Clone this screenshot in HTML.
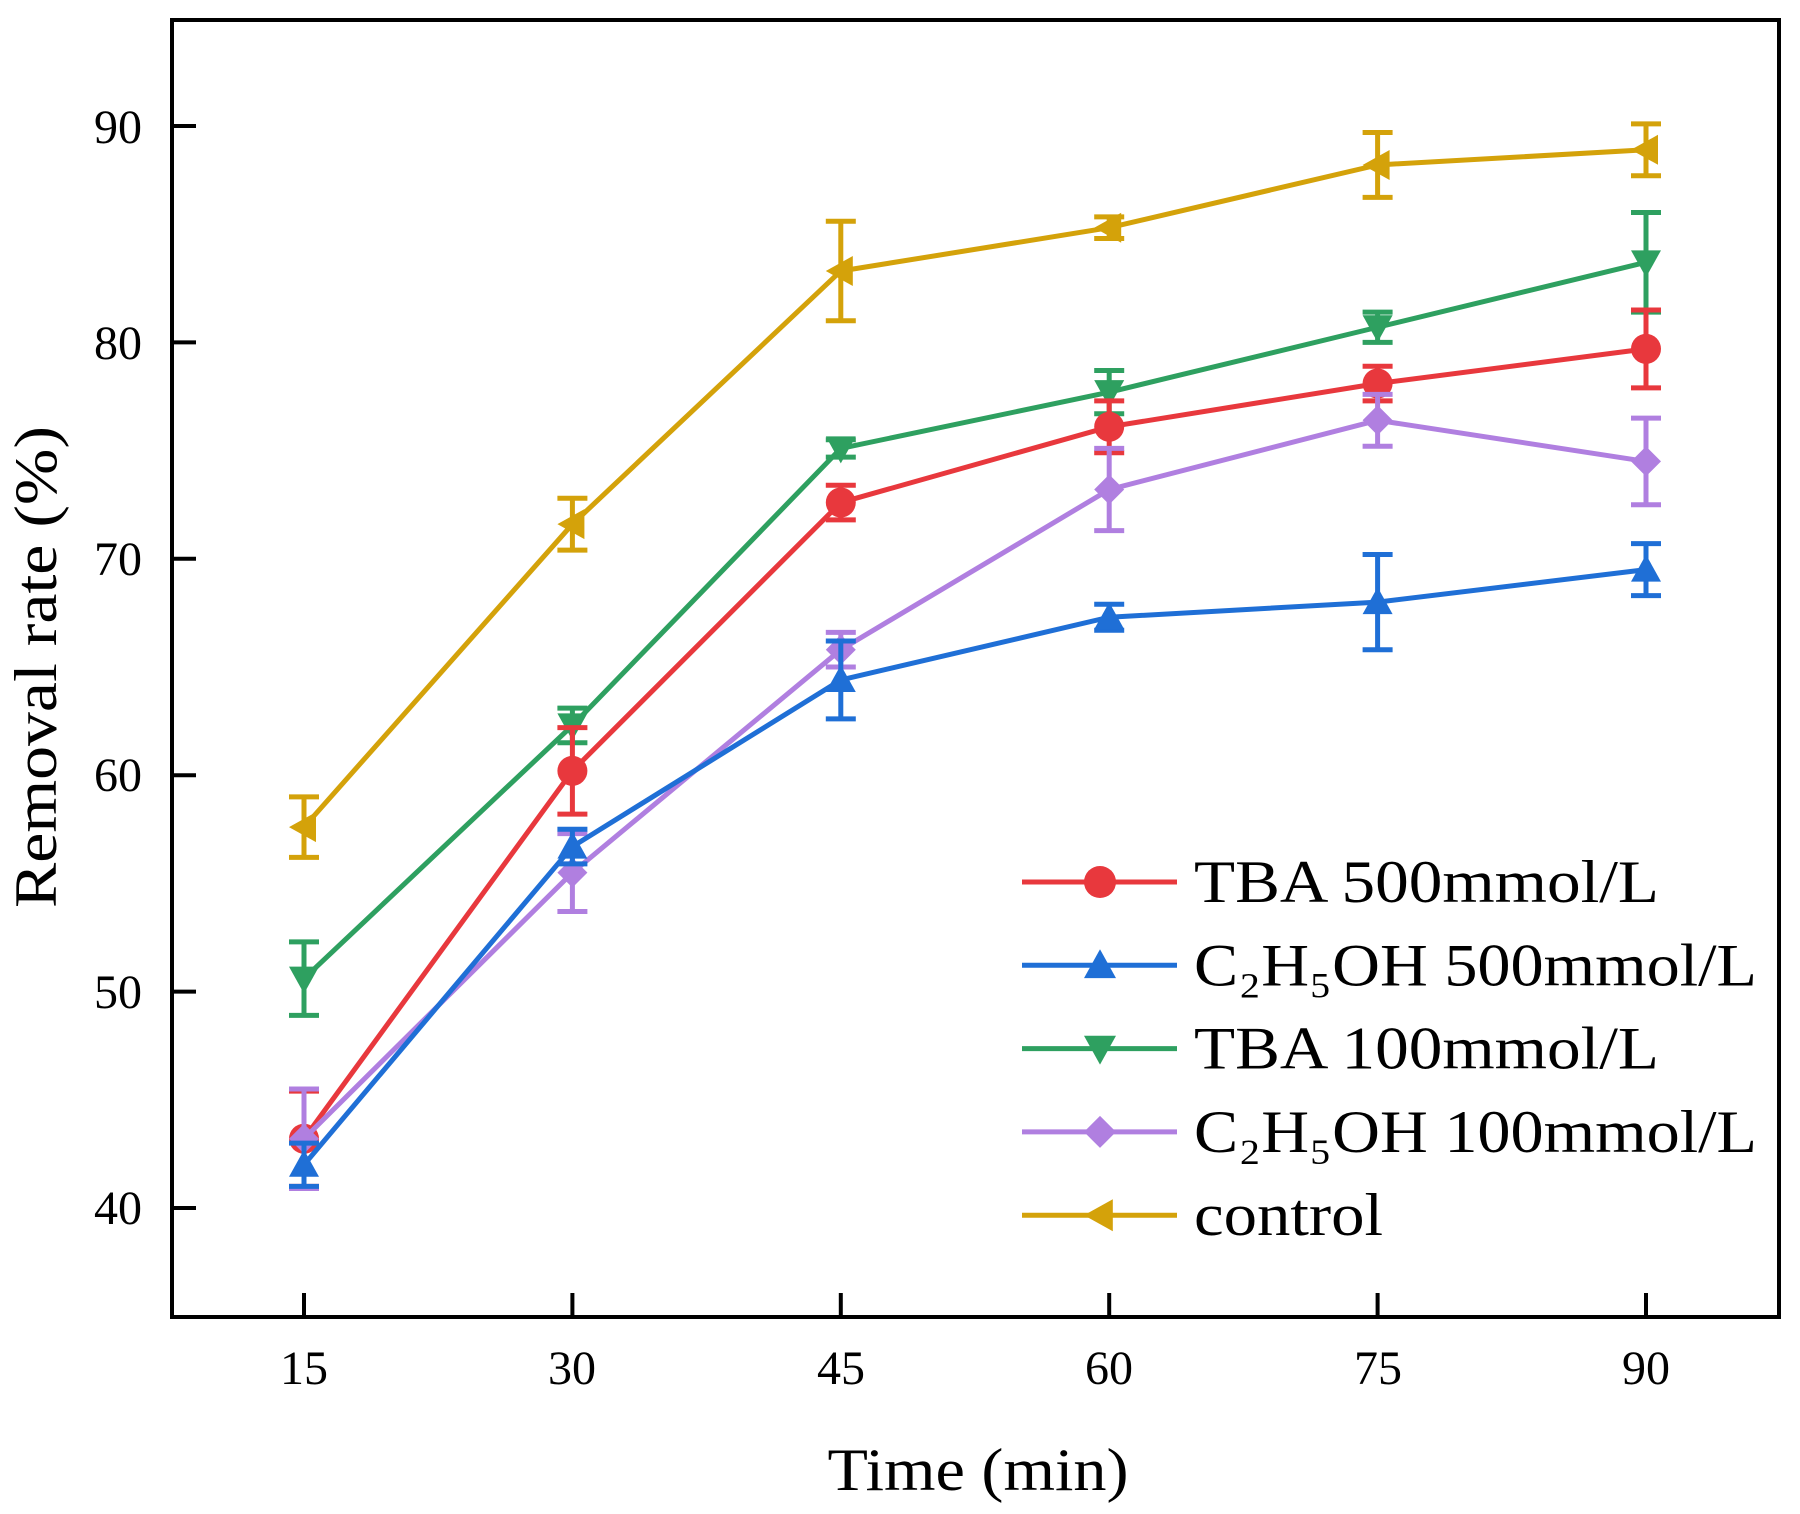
<!DOCTYPE html>
<html><head><meta charset="utf-8"><style>body{margin:0;background:#fff}svg{display:block}text{font-family:"Liberation Serif",serif}</style></head>
<body><svg id="s" width="1800" height="1514" xmlns="http://www.w3.org/2000/svg">
<g font-size="48" text-anchor="middle">
<text x="304" y="1384">15</text><text x="572" y="1384">30</text><text x="841" y="1384">45</text><text x="1109" y="1384">60</text><text x="1378" y="1384">75</text><text x="1646" y="1384">90</text>
<text x="118" y="1224">40</text><text x="118" y="1008">50</text><text x="118" y="791">60</text><text x="118" y="575">70</text><text x="118" y="359">80</text><text x="118" y="143">90</text>
</g>
<text x="978" y="1490" font-size="60" text-anchor="middle" textLength="301" lengthAdjust="spacingAndGlyphs">Time (min)</text>
<text transform="translate(56,667) rotate(-90)" font-size="60" text-anchor="middle" textLength="482" lengthAdjust="spacingAndGlyphs">Removal rate (%)</text>
</svg>
<script>
const s=document.getElementById('s'),NS='http://www.w3.org/2000/svg';
function el(t,a){const e=document.createElementNS(NS,t);for(const k in a)e.setAttribute(k,a[k]);s.appendChild(e);return e}
const X=i=>304+i*268.4,Y=v=>1208-(v-40)*21.64;
const S=[
['#d4a20a','L',[57.6,71.6,83.3,85.3,88.2,88.9],[1.4,1.2,2.3,0.5,1.5,1.2]],
['#2ea060','v',[50.6,62.3,75.1,77.7,80.7,83.7],[1.7,0.8,0.4,1,0.7,2.3]],
['#e8383d','o',[43.2,60.2,72.6,76.1,78.1,79.7],[2.2,2,0.8,1.2,0.8,1.8]],
['#b07fe0','d',[43.2,55.5,65.8,73.2,76.4,74.5],[2.3,1.8,0.8,1.9,1.2,2]],
['#1f6fd6','^',[42,56.7,64.4,67.3,68,69.5],[1,0.8,1.8,0.6,2.2,1.2]]];
function mk(c,m,x,y,r){r=r||15;
 if(m=='o')el('circle',{cx:x,cy:y,r:r,fill:c});
 else if(m=='^')el('polygon',{points:`${x},${y-r} ${x+r},${y+r*0.8} ${x-r},${y+r*0.8}`,fill:c});
 else if(m=='v')el('polygon',{points:`${x},${y+r} ${x+r},${y-r*0.8} ${x-r},${y-r*0.8}`,fill:c});
 else if(m=='d')el('polygon',{points:`${x},${y-r} ${x+r},${y} ${x},${y+r} ${x-r},${y}`,fill:c});
 else el('polygon',{points:`${x-r},${y} ${x+r*0.8},${y-r} ${x+r*0.8},${y+r}`,fill:c});}
S.forEach(([c,m,d,e])=>{
 el('polyline',{points:d.map((v,i)=>X(i)+','+Y(v)).join(' '),fill:'none',stroke:c,'stroke-width':5});
 d.forEach((v,i)=>{const x=X(i),a=Y(v+e[i]),b=Y(v-e[i]);
  el('line',{x1:x,x2:x,y1:a,y2:b,stroke:c,'stroke-width':5});
  el('line',{x1:x-15,x2:x+15,y1:a,y2:a,stroke:c,'stroke-width':5});
  el('line',{x1:x-15,x2:x+15,y1:b,y2:b,stroke:c,'stroke-width':5});
  mk(c,m,x,Y(v));});});
el('rect',{x:172,y:20,width:1607,height:1297,fill:'none',stroke:'#000','stroke-width':4});
for(let i=0;i<6;i++)el('line',{x1:X(i),x2:X(i),y1:1317,y2:1293,stroke:'#000','stroke-width':4});
for(let v=40;v<=90;v+=10)el('line',{x1:172,x2:196,y1:Y(v),y2:Y(v),stroke:'#000','stroke-width':4});
const L=[['#e8383d','o','TBA 500mmol/L',465],['#1f6fd6','^','C₂H₅OH 500mmol/L',563],['#2ea060','v','TBA 100mmol/L',465],['#b07fe0','d','C₂H₅OH 100mmol/L',563],['#d4a20a','L','control',189]];
L.forEach(([c,m,t,w],i)=>{const y=882+i*83.3;
 el('line',{x1:1022,x2:1177,y1:y,y2:y,stroke:c,'stroke-width':5});mk(c,m,1100,y,16);
 const tx=el('text',{x:1194,y:y+20,'font-size':60,textLength:w,lengthAdjust:'spacingAndGlyphs'});tx.textContent=t;});
</script></body></html>
